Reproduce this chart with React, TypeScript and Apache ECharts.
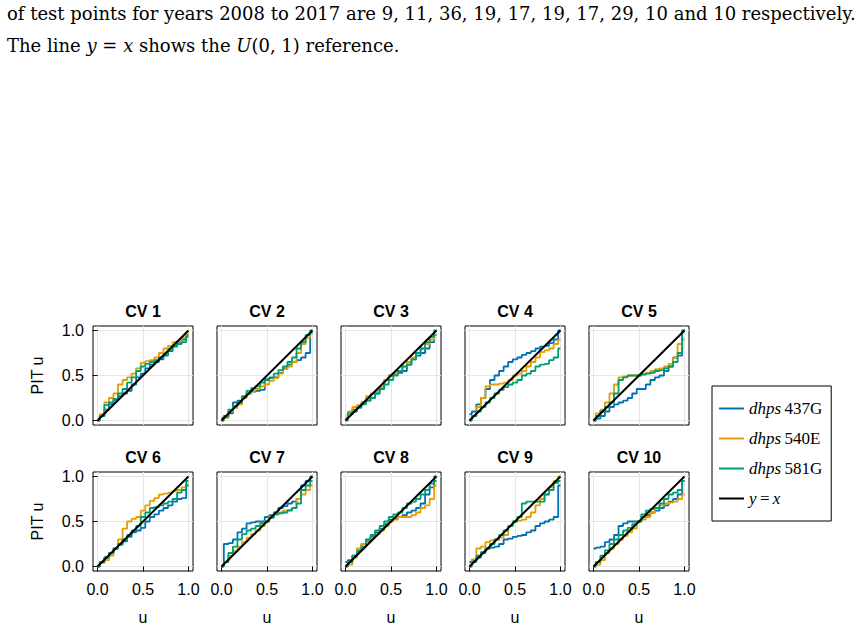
import React, { useEffect, useRef } from 'react';
import * as echarts from 'echarts';

const U = [0, 0.05, 0.1, 0.15, 0.2, 0.25, 0.3, 0.35, 0.4, 0.45, 0.5, 0.55, 0.6, 0.65, 0.7, 0.75, 0.8, 0.85, 0.9, 0.95, 1.0];
const PANELS = ['CV 1', 'CV 2', 'CV 3', 'CV 4', 'CV 5', 'CV 6', 'CV 7', 'CV 8', 'CV 9', 'CV 10'];
const SERIES_NAMES = ['dhps 437G', 'dhps 540E', 'dhps 581G'];
const REF_NAME = 'y = x';
const REF_LINE = [[0, 0], [1, 1]];
const TICKS = [0, 0.5, 1];

const PIT_437G = [
  [0, .05, .12, .18, .23, .27, .30, .33, .40, .48, .52, .58, .62, .65, .68, .72, .77, .82, .86, .90, .95],
  [.03, .05, .08, .20, .22, .26, .30, .32, .33, .34, .46, .47, .48, .53, .58, .62, .65, .67, .70, .75, .98],
  [.03, .08, .12, .16, .20, .22, .25, .30, .35, .45, .50, .52, .53, .55, .62, .68, .72, .75, .80, .87, .95],
  [.07, .10, .18, .25, .35, .45, .50, .55, .60, .65, .68, .70, .73, .75, .77, .80, .82, .83, .86, .90, 1.0],
  [0, .02, .05, .10, .15, .18, .20, .22, .25, .30, .35, .35, .40, .45, .48, .50, .55, .60, .70, .72, 1.0],
  [0, .05, .10, .15, .20, .24, .28, .33, .38, .40, .43, .50, .55, .58, .62, .65, .68, .72, .75, .76, .90],
  [0, .25, .26, .30, .38, .42, .48, .49, .50, .50, .55, .57, .60, .65, .67, .70, .72, .75, .90, .95, 1.0],
  [.05, .07, .12, .18, .25, .30, .33, .38, .42, .47, .52, .53, .55, .57, .60, .62, .65, .70, .80, .88, 1.0],
  [.05, .07, .10, .15, .20, .21, .22, .25, .30, .31, .33, .34, .35, .38, .40, .45, .48, .50, .52, .55, .90],
  [.20, .21, .22, .27, .30, .35, .45, .48, .50, .50, .50, .55, .57, .60, .62, .65, .68, .72, .75, .80, .95],
];
const PIT_540E = [
  [0, .07, .20, .25, .30, .40, .45, .48, .52, .58, .64, .66, .67, .70, .75, .80, .83, .87, .88, .92, .98],
  [0, .03, .10, .14, .18, .25, .30, .33, .35, .38, .40, .44, .47, .52, .57, .60, .65, .75, .85, .92, .97],
  [.03, .10, .15, .17, .20, .27, .30, .33, .37, .45, .50, .52, .55, .60, .65, .70, .75, .80, .85, .90, .95],
  [0, .05, .15, .25, .38, .40, .40, .41, .42, .45, .50, .52, .55, .60, .65, .70, .76, .78, .80, .85, .90],
  [0, .08, .12, .20, .30, .40, .48, .49, .50, .50, .50, .52, .53, .55, .57, .58, .60, .63, .70, .85, .90],
  [0, .04, .07, .12, .20, .30, .42, .50, .53, .55, .62, .68, .73, .76, .80, .81, .82, .84, .85, .88, .92],
  [0, .05, .12, .17, .22, .27, .32, .36, .40, .45, .50, .55, .58, .60, .62, .63, .65, .75, .80, .85, .90],
  [0, .02, .10, .20, .25, .28, .32, .36, .40, .45, .50, .52, .55, .55, .55, .57, .60, .65, .68, .75, .90],
  [0, .08, .20, .22, .27, .29, .30, .32, .35, .45, .50, .51, .52, .55, .60, .68, .75, .80, .88, .95, 1.0],
  [0, .02, .07, .15, .20, .25, .30, .34, .38, .42, .50, .52, .55, .60, .65, .68, .70, .71, .72, .75, .80],
];
const PIT_581G = [
  [0, .05, .17, .20, .24, .30, .35, .42, .48, .55, .60, .63, .65, .67, .70, .73, .78, .83, .85, .87, .93],
  [0, .04, .12, .16, .20, .27, .33, .36, .38, .42, .45, .48, .52, .56, .60, .65, .70, .80, .87, .95, 1.0],
  [0, .08, .10, .14, .18, .22, .25, .30, .35, .40, .45, .50, .55, .60, .62, .68, .75, .80, .87, .93, 1.0],
  [0, .05, .10, .15, .20, .25, .30, .34, .37, .40, .42, .45, .50, .52, .55, .60, .62, .63, .67, .70, .80],
  [0, .05, .10, .15, .20, .30, .45, .48, .50, .50, .50, .51, .52, .53, .55, .56, .58, .60, .65, .75, 1.0],
  [0, .05, .10, .15, .20, .25, .30, .35, .40, .45, .55, .60, .65, .66, .68, .70, .72, .75, .82, .85, .95],
  [0, .05, .15, .22, .30, .36, .40, .42, .45, .48, .50, .54, .58, .59, .60, .62, .65, .70, .85, .90, .95],
  [0, .05, .12, .17, .22, .28, .35, .40, .45, .50, .55, .58, .60, .65, .70, .72, .75, .80, .85, .92, .95],
  [0, .05, .12, .16, .20, .25, .30, .35, .40, .45, .50, .55, .70, .72, .72, .72, .72, .80, .85, .93, .95],
  [0, .05, .12, .18, .25, .30, .35, .40, .43, .47, .50, .58, .62, .64, .65, .70, .75, .80, .82, .85, .95],
];

const COLORS = ['#0072B2', '#E69F00', '#009E73'];
const PANEL_LEFT = [93, 217, 341, 465, 589];
const PANEL_TOP = [326, 472];
const PANEL_W = 100;
const PANEL_H = 99;
const SANS = '"Liberation Sans", Arial, sans-serif';
const SERIF = '"DejaVu Serif", serif';
const LSERIF = '"Liberation Serif", serif';
const LINE_ICON = 'path://M0,0 L25,0 L25,2 L0,2 Z';

export default function App() {
  const ref = useRef<HTMLDivElement>(null);
  useEffect(() => {
    if (!ref.current) return;
    const chart = echarts.init(ref.current, null, { renderer: 'svg' });
    const grids: any[] = [];
    const xAxes: any[] = [];
    const yAxes: any[] = [];
    const series: any[] = [];
    const graphics: any[] = [];
    const allData = [PIT_437G, PIT_540E, PIT_581G];
    PANELS.forEach((title, i) => {
      const row = Math.floor(i / 5);
      const col = i % 5;
      const left = PANEL_LEFT[col];
      const top = PANEL_TOP[row];
      grids.push({ left, top, width: PANEL_W, height: PANEL_H, show: true, borderColor: '#000', borderWidth: 1, backgroundColor: 'transparent' });
      const bottom = row === 1;
      const first = col === 0;
      xAxes.push({
        type: 'value', gridIndex: i, min: -0.05, max: 1.05,
        axisLine: { show: false },
        axisTick: { show: bottom, customValues: TICKS, length: 5, lineStyle: { color: '#000' } },
        axisLabel: { show: bottom, customValues: TICKS, formatter: (v: number) => v.toFixed(1), color: '#000', fontSize: 16, fontFamily: SANS, margin: 10 },
        splitLine: { show: true, lineStyle: { color: '#e6e6e6', width: 1 } },
        name: bottom ? 'u' : '', nameLocation: 'middle', nameGap: 38,
        nameTextStyle: { color: '#000', fontSize: 16, fontFamily: SANS },
      });
      yAxes.push({
        type: 'value', gridIndex: i, min: -0.05, max: 1.05,
        axisLine: { show: false },
        axisTick: { show: first, customValues: TICKS, length: 5, lineStyle: { color: '#000' } },
        axisLabel: { show: first, customValues: TICKS, formatter: (v: number) => v.toFixed(1), color: '#000', fontSize: 16, fontFamily: SANS, margin: 9 },
        splitLine: { show: true, lineStyle: { color: '#e6e6e6', width: 1 } },
        name: first ? 'PIT u' : '', nameLocation: 'middle', nameGap: 48,
        nameTextStyle: { color: '#000', fontSize: 16, fontFamily: SANS },
      });
      allData.forEach((d, s) => {
        series.push({
          type: 'line', name: SERIES_NAMES[s], xAxisIndex: i, yAxisIndex: i,
          data: U.map((u, k) => [u, d[i][k]]), step: 'middle', symbol: 'none',
          lineStyle: { color: COLORS[s], width: 1.8 }, itemStyle: { color: COLORS[s] },
        });
      });
      series.push({
        type: 'line', name: REF_NAME, xAxisIndex: i, yAxisIndex: i,
        data: REF_LINE, symbol: 'none',
        lineStyle: { color: '#000', width: 2 }, itemStyle: { color: '#000' },
      });
      graphics.push({
        type: 'text', x: left + PANEL_W / 2, y: top - 15,
        style: { text: title, font: `bold 16px ${SANS}`, fill: '#000', textAlign: 'center', textVerticalAlign: 'middle' },
      });
    });
    graphics.push({
      type: 'text', x: 7, y: 13,
      style: { text: 'of test points for years 2008 to 2017 are 9, 11, 36, 19, 17, 19, 17, 29, 10 and 10 respectively.', font: `18px ${SERIF}`, fill: '#000', textVerticalAlign: 'middle' },
    });
    graphics.push({
      type: 'text', x: 7, y: 45,
      style: {
        text: 'The line {i|y} = {i|x} shows the {i|U}(0, 1) reference.',
        font: `18px ${SERIF}`, fill: '#000', textVerticalAlign: 'middle',
        rich: { i: { fontStyle: 'italic', fontFamily: SERIF, fontSize: 18, fill: '#000' } },
      },
    });
    chart.setOption({
      animation: false,
      grid: grids, xAxis: xAxes, yAxis: yAxes, series,
      legend: {
        data: [...SERIES_NAMES, REF_NAME].map((n) => ({ name: n, icon: LINE_ICON })),
        orient: 'vertical', left: 712, top: 386,
        itemWidth: 25, itemHeight: 14, itemGap: 13, padding: [14, 9, 14, 7],
        borderColor: '#000', borderWidth: 1, borderRadius: 0, selectedMode: false,
        formatter: (name: string) => name === REF_NAME ? '{m|y} {r|=} {m|x}' : `{m|dhps} {r|${name.split(' ')[1]}}`,
        textStyle: {
          color: '#000',
          rich: {
            m: { fontFamily: LSERIF, fontStyle: 'italic', fontSize: 17, color: '#000' },
            r: { fontFamily: LSERIF, fontSize: 17, color: '#000' },
          },
        },
      },
      graphic: graphics,
    });
    return () => chart.dispose();
  }, []);
  return <div ref={ref} style={{ position: 'absolute', left: 0, top: 0, width: 866, height: 628 }} />;
}
